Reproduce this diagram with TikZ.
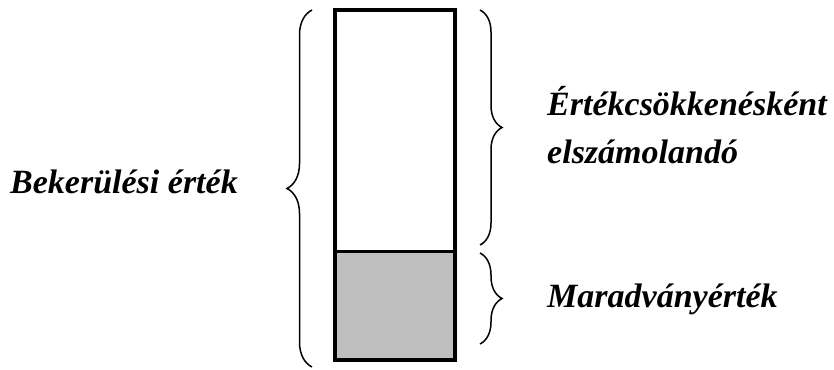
\documentclass[tikz,border=0pt]{standalone}
\usepackage{fontspec}
\setmainfont{Liberation Serif}
\usetikzlibrary{decorations.pathreplacing}
\begin{document}
\begin{tikzpicture}[x=1pt,y=-1pt,
  lbl/.style={font=\fontsize{34}{48}\selectfont\bfseries\itshape, inner sep=0pt, anchor=base west},
  brc/.style={draw, line width=1.5pt, decorate, decoration={brace, amplitude=#1}}]
\useasboundingbox (0,0) rectangle (834,369);
% column
\coordinate (tl) at (335,10);
\coordinate (ml) at (335,251);
\coordinate (mr) at (455,251);
\coordinate (br) at (455,360);
\fill[white] (tl) rectangle (mr);
\fill[black!25] (ml) rectangle (br);
\draw[line width=3pt] (ml) -- (mr);
\draw[line width=4pt] (tl) rectangle (br);
% braces
\coordinate (lb1) at (312,367);
\coordinate (lb2) at (312,10);
\draw[brc=25] (lb1) -- (lb2);
\coordinate (rb1) at (480,10);
\coordinate (rb2) at (480,245);
\draw[brc=22] (rb1) -- (rb2);
\coordinate (rb3) at (480,253);
\coordinate (rb4) at (480,344);
\draw[brc=22] (rb3) -- (rb4);
% labels
\node[lbl] (bek) at (10,193) {Bekerülési érték};
\node[lbl] (ert1) at (547,115) {Értékcsökkenésként};
\node[lbl] (ert2) at (547,163) {elszámolandó};
\node[lbl] (mar) at (547,307) {Maradványérték};
\end{tikzpicture}
\end{document}
